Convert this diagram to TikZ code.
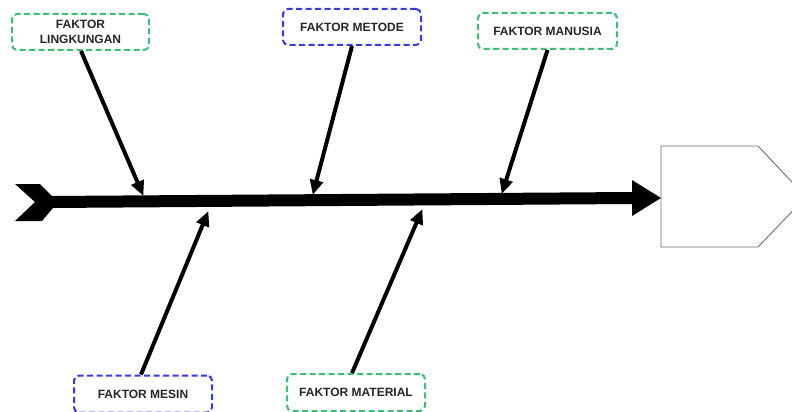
\documentclass[tikz,border=0pt]{standalone}
\usepackage{fontspec}
\setmainfont{Liberation Sans}
\usetikzlibrary{arrows.meta}
\definecolor{dgreen}{RGB}{60,190,115}
\definecolor{dblue}{RGB}{55,55,235}
\definecolor{headgray}{RGB}{110,110,110}
\tikzset{
  factor/.style={draw, line width=2pt, dash pattern=on 6pt off 3.5pt, rounded corners=5pt,
    minimum width=137pt, minimum height=36pt, inner sep=1pt, align=center,
    font=\fontsize{12}{13}\selectfont\bfseries, text=black!85},
  greenbox/.style={factor, draw=dgreen},
  bluebox/.style={factor, draw=dblue},
  bone/.style={line width=4pt, -{Triangle[length=15pt,width=13pt]}, shorten >=-1pt}
}
\begin{document}
\begin{tikzpicture}[x=1pt,y=-1pt]
\useasboundingbox (0,0) rectangle (792,412);
\clip (0,0) rectangle (792,412);
% head box
\draw[headgray, line width=0.9pt] (661,146) -- (758,146) -- (806,197) -- (758,247) -- (661,247) -- cycle;
% tail
\fill (15,184) -- (40,184) -- (58,202) -- (42,221) -- (15,221) -- (35,202) -- cycle;
% spine with head
\fill (50,196) -- (632,192) -- (632,180) -- (661,198) -- (632,216) -- (632,204) -- (50,208) -- cycle;
% boxes
\node[greenbox] (ling) at (80.5,32) {FAKTOR\\[2pt]LINGKUNGAN};
\node[bluebox, minimum width=138pt] (metode) at (352,27) {FAKTOR METODE};
\node[greenbox, minimum width=139pt] (manusia) at (547.5,31) {FAKTOR MANUSIA};
\node[bluebox, minimum width=138pt, minimum height=37pt] (mesin) at (143,394) {FAKTOR MESIN};
\node[greenbox, minimum width=138pt, minimum height=37pt] (material) at (356,392.5) {FAKTOR MATERIAL};
% targets on the spine
\coordinate (t1) at (143,195);
\coordinate (t2) at (313,194);
\coordinate (t3) at (502,193);
\coordinate (t4) at (208,212);
\coordinate (t5) at (422,210);
% bones
\draw[bone] (ling.south) ++(0.5,0) -- (t1);
\draw[bone] (metode.south) -- (t2);
\draw[bone] (manusia.south) -- (t3);
\draw[bone] (mesin.north) ++(-2,0) -- (t4);
\draw[bone] (material.north) ++(-4,0) -- (t5);
\end{tikzpicture}
\end{document}
